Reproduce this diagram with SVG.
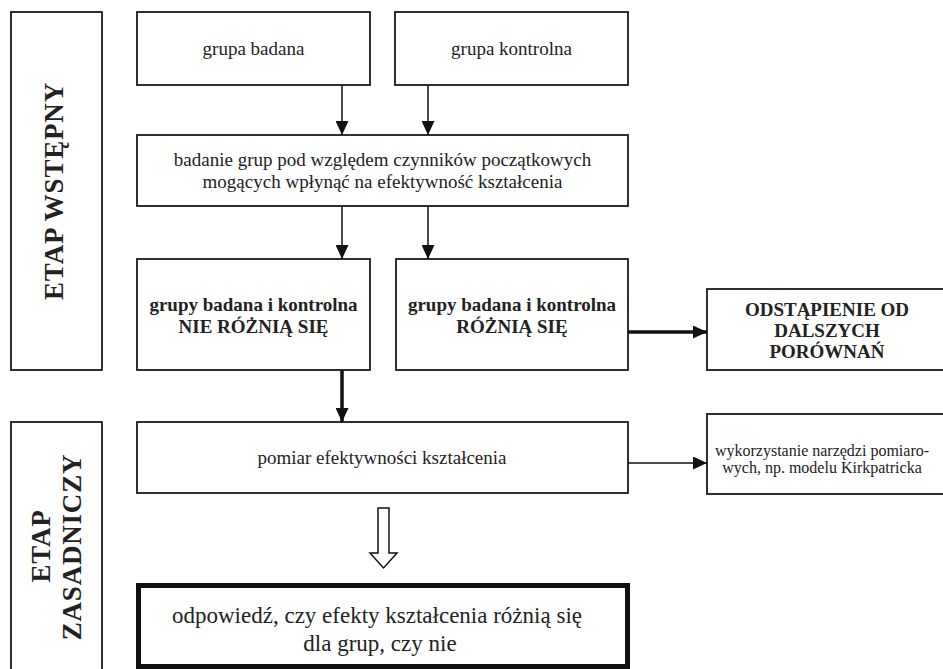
<svg xmlns="http://www.w3.org/2000/svg" width="943" height="669" viewBox="0 0 943 669" font-family="'Liberation Serif', 'Times New Roman', 'DejaVu Serif', serif">
<style>
.box{fill:#fff;stroke:#1a1a1a;stroke-width:1.8}
.thick{fill:#fff;stroke:#111;stroke-width:5}
text{font-family:'Liberation Serif','Times New Roman','DejaVu Serif',serif;fill:#222;text-anchor:middle}
.n{font-size:19px}
.b{font-size:19px;font-weight:bold}
.s{font-size:16px}
.l{font-size:23px}
.v{font-size:27px;font-weight:bold;letter-spacing:0.8px}
.c{stroke:#111;fill:none}
.thin{stroke-width:1.5}
.bold{stroke-width:3.5}
</style>
<defs>
<marker id="ah" viewBox="0 0 14 13" refX="14" refY="6.5" markerWidth="14" markerHeight="13" markerUnits="userSpaceOnUse" orient="auto">
<path d="M0,0 L14,6.5 L0,13 Z" fill="#111"/>
</marker>
</defs>
<rect width="943" height="669" fill="#fff"/>

<g id="etap-wstepny">
<rect class="box" x="11" y="12" width="91" height="358"/>
<text class="v" transform="translate(63,191) rotate(-90)">ETAP WSTĘPNY</text>
</g>
<g id="etap-zasadniczy">
<rect class="box" x="11" y="422" width="91" height="260"/>
<text class="v" transform="translate(50,546) rotate(-90)">ETAP</text>
<text class="v" transform="translate(81,547) rotate(-90)">ZASADNICZY</text>
</g>

<g id="grupa-badana">
<rect class="box" x="137" y="12" width="233" height="73"/>
<text class="n" x="253.5" y="55">grupa badana</text>
</g>
<g id="grupa-kontrolna">
<rect class="box" x="395" y="12" width="233" height="73"/>
<text class="n" x="511.5" y="55">grupa kontrolna</text>
</g>
<g id="badanie">
<rect class="box" x="137" y="135" width="491" height="71"/>
<text class="n" x="382.5" y="166">badanie grup pod względem czynników początkowych</text>
<text class="n" x="382.5" y="188">mogących wpłynąć na efektywność kształcenia</text>
</g>
<g id="nie-roznia">
<rect class="box" x="137" y="259" width="233" height="111"/>
<text class="b" x="253.5" y="311">grupy badana i kontrolna</text>
<text class="b" x="253.5" y="333">NIE RÓŻNIĄ SIĘ</text>
</g>
<g id="roznia">
<rect class="box" x="396" y="259" width="232" height="111"/>
<text class="b" x="512" y="311">grupy badana i kontrolna</text>
<text class="b" x="512" y="333">RÓŻNIĄ SIĘ</text>
</g>
<g id="odstapienie">
<rect class="box" x="707" y="289" width="240" height="81"/>
<text class="b" x="827" y="316">ODSTĄPIENIE OD</text>
<text class="b" x="827" y="337">DALSZYCH</text>
<text class="b" x="827" y="358">PORÓWNAŃ</text>
</g>
<g id="pomiar">
<rect class="box" x="137" y="422" width="491" height="71"/>
<text class="n" x="382" y="464">pomiar efektywności kształcenia</text>
</g>
<g id="wykorzystanie">
<rect class="box" x="707" y="414" width="240" height="80"/>
<text class="s" x="822" y="456">wykorzystanie narzędzi pomiaro-</text>
<text class="s" x="822" y="473">wych, np. modelu Kirkpatricka</text>
</g>
<g id="odpowiedz">
<rect class="thick" x="138.5" y="585.5" width="489" height="81"/>
<text class="l" x="377" y="623">odpowiedź, czy efekty kształcenia różnią się</text>
<text class="l" x="380" y="651">dla grup, czy nie</text>
</g>

<g id="connectors">
<line class="c thin" x1="342" y1="85" x2="342" y2="135" marker-end="url(#ah)"/>
<line class="c thin" x1="428" y1="85" x2="428" y2="135" marker-end="url(#ah)"/>
<line class="c thin" x1="342" y1="206" x2="342" y2="259" marker-end="url(#ah)"/>
<line class="c thin" x1="428" y1="206" x2="428" y2="259" marker-end="url(#ah)"/>
<line class="c bold" x1="342" y1="370" x2="342" y2="422" marker-end="url(#ah)"/>
<line class="c bold" x1="628" y1="332" x2="707" y2="332" marker-end="url(#ah)"/>
<line class="c thin" x1="628" y1="463" x2="707" y2="463" marker-end="url(#ah)"/>
<path d="M378,508 L389,508 L389,553 L397,553 L383.5,568 L370,553 L378,553 Z" fill="#fff" stroke="#111" stroke-width="1.5"/>
</g>
</svg>
